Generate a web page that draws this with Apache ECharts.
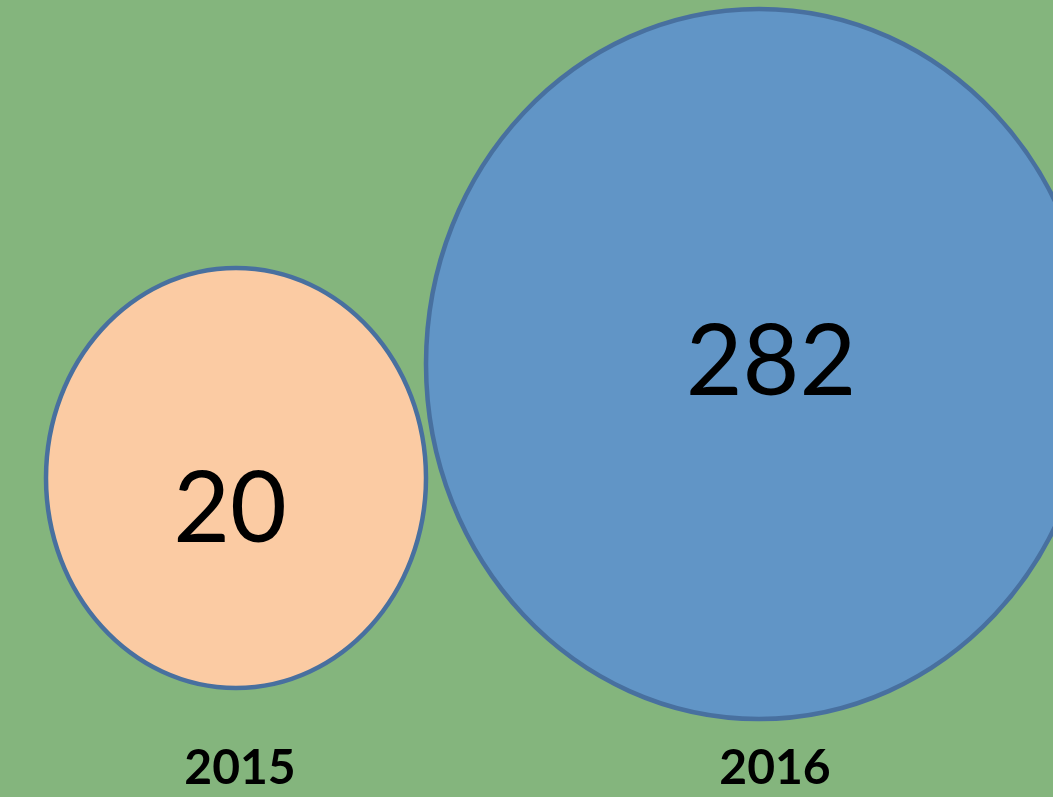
<!DOCTYPE html>
<html>
<head>
<meta charset="utf-8">
<script src="https://cdn.jsdelivr.net/npm/echarts@6/dist/echarts.min.js"></script>
<style>
  html, body { margin: 0; padding: 0; background: #84b57d; }
  #chart { width: 1053px; height: 797px; }
</style>
</head>
<body>
<div id="chart"></div>
<script>
// values shown in each bubble
const years = ['2015', '2016'];
const values = [20, 282];

// bubble geometry in axis units (x: 0..1053, y: 0..797 top-down)
const centerX = [236, 759];
const centerY = [478, 364];
const radiusX = [190, 333];
const radiusY = [210, 355];

// where the number and the year sit
const valueLabelX = [230, 771];
const valueLabelY = [510, 363];
const yearLabelX = [240, 775];
const yearLabelY = [769, 769];

const fills = ['#fbcba3', '#6195c6'];

const chart = echarts.init(document.getElementById('chart'));

const bubbleData = years.map((y, i) => [centerX[i], centerY[i], radiusX[i], radiusY[i], valueLabelX[i], valueLabelY[i], values[i]]);
const yearData = years.map((y, i) => [yearLabelX[i], yearLabelY[i], y]);

chart.setOption({
  animation: false,
  backgroundColor: '#84b57d',
  grid: { left: 0, right: 0, top: 0, bottom: 0 },
  xAxis: { type: 'value', min: 0, max: 1053, show: false },
  yAxis: { type: 'value', min: 0, max: 797, inverse: true, show: false },
  series: [
    {
      type: 'custom',
      data: bubbleData,
      renderItem: (params, api) => {
        const c = api.coord([api.value(0), api.value(1)]);
        const s = api.size([api.value(2), api.value(3)]);
        const t = api.coord([api.value(4), api.value(5)]);
        return {
          type: 'group',
          children: [
            {
              type: 'ellipse',
              shape: { cx: c[0], cy: c[1], rx: s[0], ry: s[1] },
              style: { fill: fills[params.dataIndex], stroke: '#48709f', lineWidth: 4.5 }
            },
            {
              type: 'text',
              x: t[0],
              y: t[1],
              style: {
                text: String(api.value(6)),
                fill: '#000',
                font: '98px Lato',
                align: 'center',
                verticalAlign: 'middle'
              }
            }
          ]
        };
      }
    },
    {
      type: 'custom',
      data: yearData,
      renderItem: (params, api) => {
        const p = api.coord([api.value(0), api.value(1)]);
        return {
          type: 'text',
          x: p[0],
          y: p[1],
          style: {
            text: yearData[params.dataIndex][2],
            fill: '#000',
            font: 'bold 48px Lato',
            align: 'center',
            verticalAlign: 'middle'
          }
        };
      }
    }
  ]
});
</script>
</body>
</html>
